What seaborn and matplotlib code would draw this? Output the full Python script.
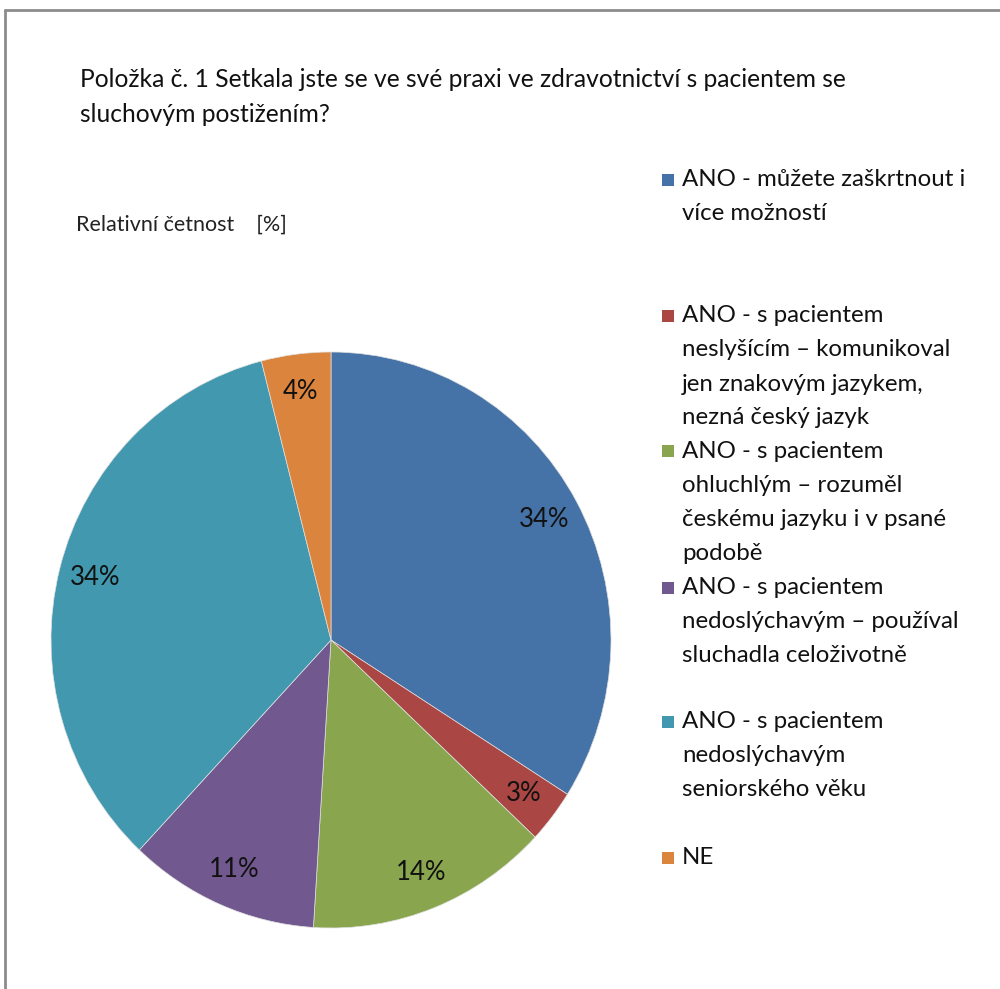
import matplotlib
matplotlib.use("Agg")
import matplotlib.pyplot as plt
from matplotlib.lines import Line2D
from matplotlib.patches import Rectangle
import seaborn as sns

# Survey answers (relative frequency, %)
categories = [
    "ANO - můžete zaškrtnout i\nvíce možností",
    "ANO - s pacientem\nneslyšícím – komunikoval\njen znakovým jazykem,\nnezná český jazyk",
    "ANO - s pacientem\nohluchlým – rozuměl\nčeskému jazyku i v psané\npodobě",
    "ANO - s pacientem\nnedoslýchavým – používal\nsluchadla celoživotně",
    "ANO - s pacientem\nnedoslýchavým\nseniorského věku",
    "NE",
]
percent = [34, 3, 14, 11, 34, 4]
colors = ["#4572A7", "#AA4643", "#89A54E", "#71588F", "#4198AF", "#DB843D"]
title = "Položka č. 1 Setkala jste se ve své praxi ve zdravotnictví s pacientem se\nsluchovým postižením?"
subtitle = "Relativní četnost    [%]"

sns.set_theme(style="white")
plt.rcParams["font.family"] = ["Lato", "DejaVu Sans"]
palette = sns.color_palette(colors)

W, H = 1000, 989
fig = plt.figure(figsize=(W / 100, H / 100), dpi=100)
fig.patch.set_facecolor("white")

# outer frame (top and left edges visible)
frame_kw = dict(color="#8c8c8c", lw=2, transform=fig.transFigure)
fig.add_artist(Line2D([5 / W, 1], [1 - 10 / H, 1 - 10 / H], **frame_kw))
fig.add_artist(Line2D([5 / W, 5 / W], [1 - 10 / H, 0], **frame_kw))

# pie (slightly taller than wide)
cx, cy, rx, ry = 331, 640, 280, 288
ax = fig.add_axes([(cx - rx) / W, (H - cy - ry) / H, 2 * rx / W, 2 * ry / H])
wedges, texts, autotexts = ax.pie(
    percent,
    colors=palette,
    startangle=90,
    counterclock=False,
    autopct=lambda p: f"{p:.0f}%",
    pctdistance=0.87,
    radius=1,
    wedgeprops=dict(linewidth=0.5, edgecolor="#e0e0e0"),
    textprops=dict(fontsize=18.5, color="#111111"),
)
ax.set_xlim(-1, 1)
ax.set_ylim(-1, 1)
ax.set_aspect("auto")
ax.axis("off")

# titles
line1, line2 = title.split("\n")
fig.text(80 / W, 1 - 80 / H, line1, fontsize=17.7, color="#111111",
         va="center", ha="left")
fig.text(80 / W, 1 - 115 / H, line2, fontsize=17.7, color="#111111",
         va="center", ha="left")
fig.text(76 / W, 1 - 225 / H, subtitle, fontsize=15.5, color="#222222",
         va="center", ha="left")

# legend, drawn line by line
first_lines = [180, 316, 451, 588, 722, 858]
line_step = 34
for label, col, y0 in zip(categories, palette, first_lines):
    sq = 12
    fig.add_artist(Rectangle((662 / W, 1 - (y0 + sq / 2) / H), sq / W, sq / H,
                             facecolor=col, edgecolor="none",
                             transform=fig.transFigure))
    for i, line in enumerate(label.split("\n")):
        fig.text(682 / W, 1 - (y0 + i * line_step) / H, line, fontsize=17.3,
                 color="#111111", va="center", ha="left")

fig.savefig("out.png", dpi=100, facecolor="white")
